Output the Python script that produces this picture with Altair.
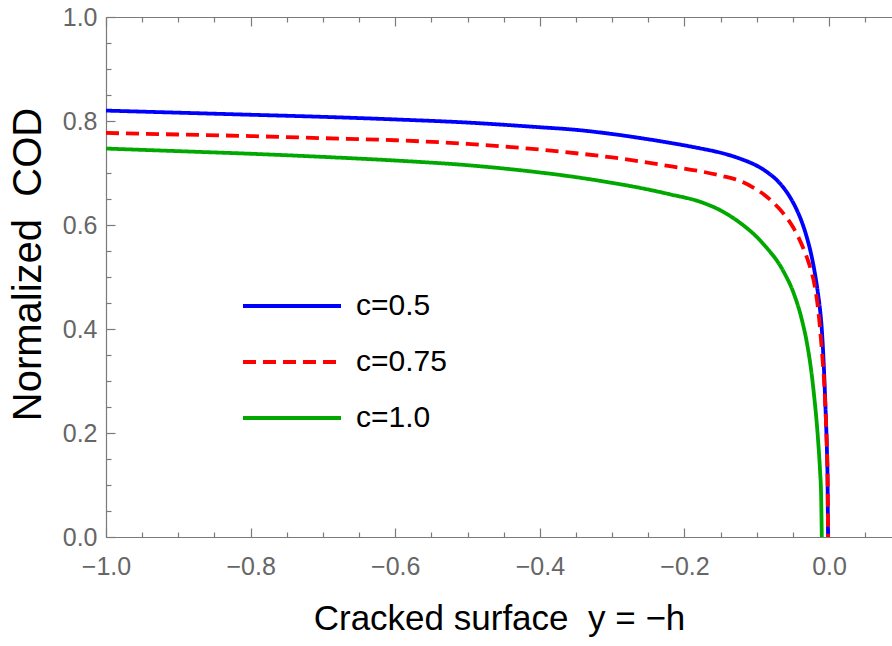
import altair as alt
import pandas as pd

# ---- data ----
series_names = ["c=0.5", "c=0.75", "c=1.0"]

blue_x = [-1.0, -0.9, -0.8, -0.7, -0.6, -0.5, -0.4, -0.35, -0.3, -0.26, -0.22, -0.177, -0.15,
          -0.122, -0.1, -0.085, -0.07, -0.057, -0.045, -0.038, -0.032, -0.025, -0.02, -0.0157,
          -0.0125, -0.0102, -0.0087, -0.007, -0.0055, -0.004, -0.003, -0.002, -0.0015]
blue_y = [0.820, 0.816, 0.812, 0.808, 0.803, 0.797, 0.788, 0.783, 0.775, 0.767, 0.758, 0.747,
          0.739, 0.727, 0.714, 0.701, 0.683, 0.660, 0.630, 0.607, 0.582, 0.545, 0.510, 0.472,
          0.437, 0.402, 0.368, 0.320, 0.268, 0.212, 0.168, 0.095, 0.0]

red_x = [-1.0, -0.9, -0.8, -0.7, -0.6, -0.5, -0.4, -0.35, -0.3, -0.26, -0.22, -0.177, -0.15,
         -0.122, -0.1, -0.085, -0.07, -0.062, -0.05, -0.043, -0.035, -0.0295, -0.025, -0.0203,
         -0.0145, -0.0102, -0.0065, -0.0055, -0.004, -0.003, -0.002, -0.0015]
red_y = [0.777, 0.774, 0.771, 0.767, 0.763, 0.756, 0.745, 0.738, 0.730, 0.722, 0.713, 0.703,
         0.695, 0.684, 0.668, 0.653, 0.633, 0.620, 0.596, 0.578, 0.553, 0.533, 0.513, 0.486,
         0.430, 0.362, 0.290, 0.262, 0.212, 0.170, 0.110, 0.0]

green_x = [-1.0, -0.9, -0.8, -0.7, -0.6, -0.5, -0.4, -0.35, -0.3, -0.26, -0.22, -0.177, -0.15,
           -0.122, -0.1, -0.085, -0.07, -0.062, -0.0485, -0.0388, -0.0295, -0.025, -0.0203,
           -0.017, -0.0145, -0.0125, -0.011, -0.0101]
green_y = [0.747, 0.742, 0.737, 0.731, 0.724, 0.715, 0.701, 0.692, 0.681, 0.671, 0.659, 0.644,
           0.628, 0.603, 0.577, 0.554, 0.527, 0.508, 0.467, 0.424, 0.364, 0.323, 0.266, 0.218,
           0.172, 0.127, 0.078, 0.0]

x_major = [-1.0, -0.8, -0.6, -0.4, -0.2, 0.0]
x_minor = [-0.95, -0.9, -0.85, -0.75, -0.7, -0.65, -0.55, -0.5, -0.45, -0.35, -0.3, -0.25,
           -0.15, -0.1, -0.05, 0.05]
y_major = [0.0, 0.2, 0.4, 0.6, 0.8, 1.0]
y_minor = [0.05, 0.1, 0.15, 0.25, 0.3, 0.35, 0.45, 0.5, 0.55, 0.65, 0.7, 0.75, 0.85, 0.9, 0.95]

x_title = "Cracked surface\u00a0\u00a0y = \u2212h"
y_title = "Normalized\u00a0\u00a0COD"

# ---- styling ----
colors = ["#0000ff", "#ff0000", "#00a800"]
dashes = [[1, 0], [13, 7], [1, 0]]
widths = [3.8, 3.8, 4.6]
FONT = "Liberation Sans"
FRAME = "#7a7a7a"
W, H = 786, 520

rows = []
for name, xs_, ys_ in [(series_names[0], blue_x, blue_y),
                       (series_names[1], red_x, red_y),
                       (series_names[2], green_x, green_y)]:
    for xv, yv in zip(xs_, ys_):
        rows.append({"x": xv, "y": yv, "series": name})
df = pd.DataFrame(rows)

xscale = alt.Scale(domain=[-1.0, 0.087], nice=False, zero=False)
yscale = alt.Scale(domain=[0.0, 1.0], nice=False, zero=False)

legend = alt.Legend(
    orient="none", legendX=135, legendY=272, direction="vertical", title=None,
    symbolType="stroke", symbolSize=9604, symbolStrokeWidth=4,
    labelFont=FONT, labelFontSize=30, labelColor="black", labelOffset=13,
    rowPadding=22, clipHeight=34,
)

ax_bottom = alt.Axis(
    orient="bottom", values=x_major, format=".1f", ticks=False, tickSize=0, grid=False,
    domain=True, domainColor=FRAME, domainWidth=1.2,
    labelFont=FONT, labelFontSize=25, labelColor="#666666", labelPadding=17,
    labelFlush=False, labelOverlap=False,
    title=x_title, titleFont=FONT, titleFontSize=35,
    titleFontWeight="normal", titleColor="black", titlePadding=22,
)
ax_left = alt.Axis(
    orient="left", values=y_major, format=".1f", ticks=False, tickSize=0, grid=False,
    domain=True, domainColor=FRAME, domainWidth=1.2,
    labelFont=FONT, labelFontSize=25, labelColor="#666666", labelPadding=9,
    labelFlush=False, labelOverlap=False,
    title=y_title, titleFont=FONT, titleFontSize=40, titleY=247,
    titleFontWeight="normal", titleColor="black", titlePadding=14,
)

lines = alt.Chart(df).mark_line(interpolate="monotone", strokeCap="butt").encode(
    x=alt.X("x:Q", scale=xscale, axis=ax_bottom),
    y=alt.Y("y:Q", scale=yscale, axis=ax_left),
    color=alt.Color("series:N", scale=alt.Scale(domain=series_names, range=colors), legend=legend),
    strokeDash=alt.StrokeDash("series:N", scale=alt.Scale(domain=series_names, range=dashes), legend=legend),
    strokeWidth=alt.StrokeWidth("series:N", scale=alt.Scale(domain=series_names, range=widths), legend=None),
)


def tick_axis(orient, offset, values, size, domain=False):
    return alt.Axis(orient=orient, offset=offset, values=values, tickSize=size, ticks=True,
                    tickColor=FRAME, tickWidth=1.2, labels=False, domain=domain,
                    domainColor=FRAME, domainWidth=1.2, grid=False, title=None)


def ghost(xaxis, yaxis):
    return alt.Chart(df).mark_point(opacity=0).encode(
        x=alt.X("x:Q", scale=xscale, axis=xaxis),
        y=alt.Y("y:Q", scale=yscale, axis=yaxis),
    )


# inward ticks on bottom/left, top frame with inward ticks
t1 = ghost(tick_axis("top", -H, x_major, 9), tick_axis("right", -W, y_major, 9))
t2 = ghost(tick_axis("top", -H, x_minor, 5), tick_axis("right", -W, y_minor, 5))
t3 = ghost(tick_axis("bottom", -H, x_major, 9, domain=True), None)
t4 = ghost(tick_axis("bottom", -H, x_minor, 5), None)

chart = alt.layer(lines, t1, t2, t3, t4).resolve_axis(
    x="independent", y="independent"
).properties(
    width=W, height=H,
    autosize=alt.AutoSizeParams(type="none"),
    padding={"left": 106, "top": 17, "right": 0, "bottom": 109},
    background="white",
).configure_view(stroke=None)

chart.save("out.html", embed_options={"renderer": "svg", "actions": False})
